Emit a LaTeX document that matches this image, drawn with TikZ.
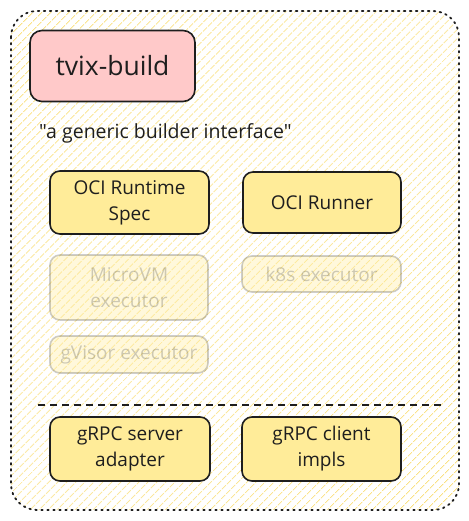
\documentclass[tikz,border=0pt]{standalone}
\usepackage{fontspec}
\setmainfont{Open Sans}[Ligatures=TeXOff]
\usetikzlibrary{patterns.meta}
\definecolor{ink}{HTML}{1E1E1E}
\definecolor{pinkf}{HTML}{FFC9C9}
\definecolor{yelf}{HTML}{FFEC99}
\definecolor{hatch}{HTML}{FAE07E}
\tikzset{
  box/.style={draw=ink, line width=1.6pt, rounded corners=10pt, fill=yelf, align=center,
    text=ink, font=\fontsize{19}{26}\selectfont, inner sep=0pt},
  faded/.style={box, draw opacity=0.22, fill opacity=0.35, text opacity=0.22},
  outer/.style={draw=ink, line width=1.8pt, dash pattern=on 1.6pt off 4.4pt, line cap=round,
    rounded corners=26pt, pattern={Lines[angle=45,distance=6.5pt,line width=1pt]}, pattern color=hatch},
}
\begin{document}
\begin{tikzpicture}[x=1pt,y=-1pt]
\useasboundingbox (0,0) rectangle (468,521);
\path[outer] (11,11) rectangle (459,510);
\node[box, fill=pinkf, rounded corners=12pt, minimum width=165pt, minimum height=71pt,
  font=\fontsize{26.5}{30}\selectfont] (tvix) at (112.5,66) {tvix-build};
\node[text=ink, font=\fontsize{19.5}{22}\selectfont, anchor=west, inner sep=0pt] (desc) at (39,133) {"a generic builder interface"};
\node[box, minimum width=159pt, minimum height=63pt] (ocispec) at (129.5,202.5) {OCI Runtime\\Spec};
\node[box, minimum width=158pt, minimum height=61pt] (ocirun) at (322,202.5) {OCI Runner};
\node[faded, minimum width=158pt, minimum height=65pt] (microvm) at (129,287.5) {MicroVM\\executor};
\node[faded, minimum width=159pt, minimum height=36pt] (k8s) at (321.5,274) {k8s executor};
\node[faded, minimum width=158pt, minimum height=37pt] (gvisor) at (129,354.5) {gVisor executor};
\coordinate (dl) at (38,405);
\coordinate (dr) at (443,405);
\draw[draw=ink, line width=1.6pt, dash pattern=on 7pt off 5pt] (dl) -- (dr);
\node[box, minimum width=160pt, minimum height=64pt] (grpcs) at (130,449) {gRPC server\\adapter};
\node[box, minimum width=159pt, minimum height=64pt] (grpcc) at (321.5,449) {gRPC client\\impls};
\end{tikzpicture}
\end{document}
